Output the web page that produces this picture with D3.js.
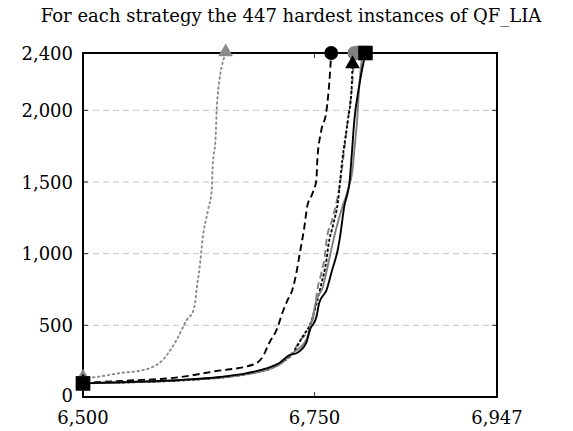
<!DOCTYPE html>
<html><head><meta charset="utf-8">
<script src="https://cdn.jsdelivr.net/npm/d3@7"></script>
<style>body{margin:0;background:#fff}svg{display:block}</style>
</head><body>
<svg id="c" width="573" height="431"></svg>
<script>
const titleText = "For each strategy the 447 hardest instances of QF_LIA";
const xTicks = [6500, 6750, 6947];
const yTicks = [0, 500, 1000, 1500, 2000, 2400];
const gridTicks = [500, 1000, 1500, 2000];

// series: instances solved (x) vs time (y)
const grayDottedX = [6500,6515,6540,6565,6586,6601,6612,6619,6621,6623,6626,6629,6635,6639,6640,6643,6645,6654];
const grayDottedY = [130,140,167,188,258,398,537,600,656,768,907,1096,1305,1445,1605,1793,2073,2400];
const blackDashedX = [6500,6550,6600,6644,6683,6694,6701,6709,6716,6721,6726,6731,6734,6739,6742,6748,6752,6753,6757,6763,6766,6768];
const blackDashedY = [100,115,135,181,225,280,377,468,600,677,747,886,1000,1186,1326,1424,1514,1654,1850,2003,2200,2400];
const grayDashedX = [6500,6600,6680,6710,6725,6735,6745,6750,6753,6758,6761,6763,6769,6775,6779,6782,6786,6791,6793];
const grayDashedY = [98,115,165,225,300,400,480,600,747,880,977,1096,1235,1400,1560,1724,1933,2212,2400];
const blackDottedX = [6500,6600,6680,6712,6727,6737,6746,6752,6757,6763,6765,6770,6775,6780,6786,6790,6791];
const blackDottedY = [97,114,163,230,310,420,520,650,780,960,1060,1200,1350,1654,1933,2150,2317];
const graySolidX = [6500,6600,6680,6712,6725,6741,6748,6752,6759,6764,6768,6773,6779,6786,6791,6793,6796,6798,6801,6802];
const graySolidY = [95,116,162,225,300,398,558,677,768,907,1026,1165,1305,1445,1584,1724,1933,2142,2352,2400];
const blackSolidX = [6500,6550,6605,6648,6677,6698,6712,6723,6731,6741,6745,6752,6755,6763,6769,6775,6777,6782,6788,6790,6793,6798,6805];
const blackSolidY = [95,105,119,140,167,200,237,293,307,377,468,558,656,747,886,1026,1096,1326,1514,1675,1933,2163,2400];

const series = [
  {x: grayDottedX, y: grayDottedY, color: "#8a8a8a", dash: "1.5,3.5", cap: "round", mark: "triangle"},
  {x: blackDashedX, y: blackDashedY, color: "#000", dash: "7,4", cap: "butt", mark: "circle"},
  {x: grayDashedX, y: grayDashedY, color: "#808080", dash: "7,4", cap: "butt", mark: "circle"},
  {x: blackDottedX, y: blackDottedY, color: "#000", dash: "1.5,3.5", cap: "round", mark: "triangle"},
  {x: graySolidX, y: graySolidY, color: "#808080", dash: null, cap: "butt", mark: "square"},
  {x: blackSolidX, y: blackSolidY, color: "#000", dash: null, cap: "butt", mark: "square"}
];

const L = 83, R = 497, T = 53, B = 397;
const font = "'DejaVu Serif', serif";
const svg = d3.select("#c");
const x = d3.scaleLinear().domain([6500, 6947]).range([L, R]);
const y = d3.scaleLinear().domain([0, 2400]).range([B, T]);

// grid
svg.append("g").selectAll("line").data(gridTicks).join("line")
  .attr("x1", L).attr("x2", R).attr("y1", d => y(d)).attr("y2", d => y(d))
  .attr("stroke", "#c4c4c4").attr("stroke-width", 1).attr("stroke-dasharray", "6,4");

// ticks (inside, mirrored)
const tk = 5;
svg.append("g").selectAll("line").data(xTicks.slice(1, -1)).join("line")
  .attr("x1", d => x(d)).attr("x2", d => x(d)).attr("y1", B).attr("y2", B - tk)
  .attr("stroke", "#000").attr("stroke-width", 0.8);
svg.append("g").selectAll("line").data(xTicks.slice(1, -1)).join("line")
  .attr("x1", d => x(d)).attr("x2", d => x(d)).attr("y1", T).attr("y2", T + tk)
  .attr("stroke", "#000").attr("stroke-width", 0.8);
svg.append("g").selectAll("line").data(gridTicks).join("line")
  .attr("x1", L).attr("x2", L + tk).attr("y1", d => y(d)).attr("y2", d => y(d))
  .attr("stroke", "#000").attr("stroke-width", 0.8);
svg.append("g").selectAll("line").data(gridTicks).join("line")
  .attr("x1", R).attr("x2", R - tk).attr("y1", d => y(d)).attr("y2", d => y(d))
  .attr("stroke", "#000").attr("stroke-width", 0.8);

// series lines
const line = d3.line().x(d => x(d[0])).y(d => y(d[1])).curve(d3.curveMonotoneX);
series.forEach(s => {
  const pts = s.x.map((v, i) => [v, s.y[i]]);
  svg.append("path").datum(pts).attr("d", line)
    .attr("fill", "none").attr("stroke", s.color).attr("stroke-width", 1.9)
    .attr("stroke-linejoin", "round").attr("stroke-linecap", s.cap)
    .attr("stroke-dasharray", s.dash);
});

// frame
svg.append("rect").attr("x", L).attr("y", T).attr("width", R - L).attr("height", B - T)
  .attr("fill", "none").attr("stroke", "#000").attr("stroke-width", 2);

// markers (first and last points)
const sym = {triangle: d3.symbolTriangle, circle: d3.symbolCircle, square: d3.symbolSquare};
const sz = {triangle: 95, circle: 150, square: 210};
series.forEach(s => {
  const n = s.x.length;
  [[s.x[0], s.y[0]], [s.x[n - 1], s.y[n - 1]]].forEach(p => {
    svg.append("path")
      .attr("d", d3.symbol().type(sym[s.mark]).size(sz[s.mark])())
      .attr("transform", `translate(${x(p[0])},${y(p[1]) + (s.mark === "triangle" ? -1 : 0)})`)
      .attr("fill", s.color);
  });
});

// tick labels
const fmt = d3.format(",");
svg.append("g").selectAll("text").data(xTicks).join("text")
  .attr("x", d => x(d)).attr("y", 424).attr("text-anchor", "middle")
  .attr("font-family", font).attr("font-size", 18).text(d => fmt(d));
svg.append("g").selectAll("text").data(yTicks).join("text")
  .attr("x", 73).attr("y", d => y(d) + (d === 0 ? 5 : 6.5)).attr("text-anchor", "end")
  .attr("font-family", font).attr("font-size", 18).text(d => fmt(d));

// title
svg.append("text").attr("x", 291).attr("y", 22).attr("text-anchor", "middle")
  .attr("font-family", font).attr("font-size", 18).text(titleText);
</script>
</body></html>
